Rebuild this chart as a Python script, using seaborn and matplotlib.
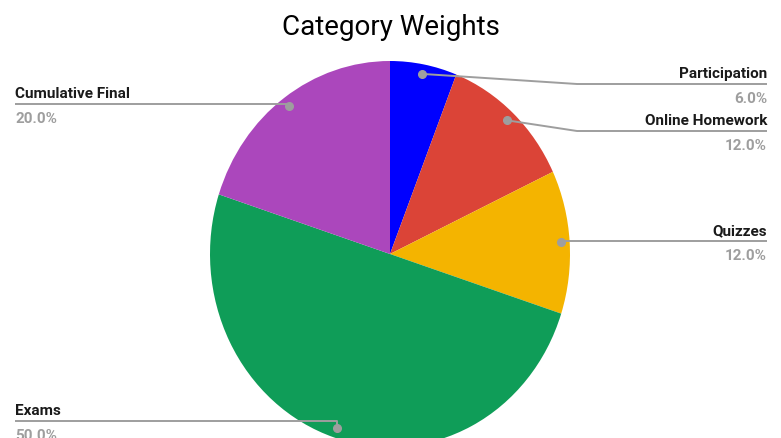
import numpy as np
import seaborn as sns
import matplotlib.pyplot as plt

# data
categories = ['Participation', 'Online Homework', 'Quizzes', 'Exams', 'Cumulative Final']
weights = [6, 12, 12, 50, 20]
colors = ['#0000ff', '#db4437', '#f4b400', '#0f9d58', '#ab47bc']

# label layout (pixel rows of the leader lines)
sides = ['right', 'right', 'right', 'left', 'left']
line_y = [85, 132, 242, 422, 105]

sns.set_theme(style="white")
plt.rcParams['font.family'] = ['Roboto', 'DejaVu Sans']

W, H = 781, 439
fig = plt.figure(figsize=(W / 100, H / 100), dpi=100)

# pie drawn slightly taller than wide, as in the original
ax_pie = fig.add_axes([210 / W, (H - 448) / H, 360 / W, 386 / H])
wedges, _ = ax_pie.pie(weights, colors=sns.color_palette(colors), startangle=90,
                       counterclock=False, wedgeprops=dict(linewidth=0))
ax_pie.set_xlim(-1, 1)
ax_pie.set_ylim(-1, 1)
ax_pie.set_aspect('auto')
ax_pie.axis('off')

# overlay in pixel coords for labels
ax = fig.add_axes([0, 0, 1, 1])
ax.set_xlim(0, W)
ax.set_ylim(H, 0)
ax.axis('off')
ax.set_zorder(3)

ax.text(391, 35, 'Category Weights', ha='center', va='baseline', fontsize=20, color='#000000')

total = sum(weights)
for w, name, val, side, ly in zip(wedges, categories, weights, sides, line_y):
    th = np.deg2rad((w.theta1 + w.theta2) / 2)
    disp = ax_pie.transData.transform((0.95 * np.cos(th), 0.95 * np.sin(th)))
    px, py = ax.transData.inverted().transform(disp)
    if side == 'right':
        elbow, end, tx, ha = 577, 767, 767, 'right'
    else:
        elbow, end, tx, ha = 200, 15, 15, 'left'
    if abs(py - ly) < 8:
        elbow = px
    ax.plot([px, elbow, end], [py, ly, ly], color='#9e9e9e', lw=1.4, solid_capstyle='butt')
    ax.plot(px, py, 'o', color='#9e9e9e', markersize=5.5)
    ax.text(tx, ly - 7, name, ha=ha, va='baseline', fontsize=11,
            fontweight='bold', color='#1a1a1a')
    ax.text(tx, ly + 18.5, f'{100 * val / total:.1f}%', ha=ha, va='baseline',
            fontsize=11, fontweight='bold', color='#9e9e9e')

fig.savefig('out.png', dpi=100, facecolor='white')
